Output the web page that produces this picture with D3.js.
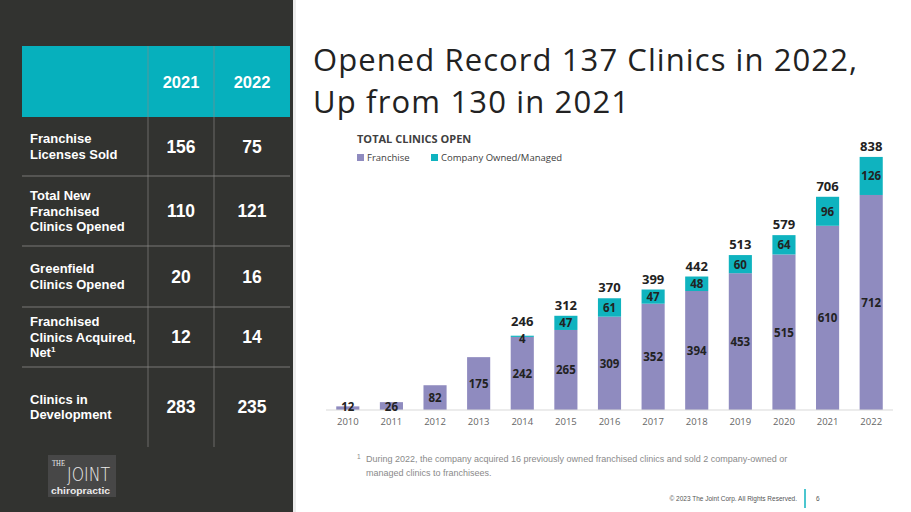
<!DOCTYPE html>
<html><head><meta charset="utf-8">
<script src="https://cdn.jsdelivr.net/npm/d3@7"></script>
<style>
body{margin:0;padding:0;background:#fff;}
svg{display:block;}
</style></head>
<body><svg id="c" width="911" height="512"></svg>
<script>
// ---- data ----
const years = ["2010","2011","2012","2013","2014","2015","2016","2017","2018","2019","2020","2021","2022"];
const franchise = [12,26,82,175,242,265,309,352,394,453,515,610,712];
const company = [0,0,0,0,4,47,61,47,48,60,64,96,126];
const totals = [null,null,null,null,246,312,370,399,442,513,579,706,838];
const seriesNames = ["Franchise","Company Owned/Managed"];
const tableYears = ["2021","2022"];
const tableRows = [["Franchise","Licenses Sold"],["Total New","Franchised","Clinics Opened"],["Greenfield","Clinics Opened"],["Franchised","Clinics Acquired,","Net¹"],["Clinics in","Development"]];
const tableVals2021 = [156,110,20,12,283];
const tableVals2022 = [75,121,16,14,235];

const svg = d3.select("#c");
const PURPLE = "#8f8bbf", TEAL = "#0fb3bf", DARK = "#323330";

// ---- left panel ----
svg.append("rect").attr("x",0).attr("y",0).attr("width",293).attr("height",512).attr("fill",DARK);
svg.append("rect").attr("x",293).attr("y",0).attr("width",3).attr("height",512).attr("fill","#ececec");
const tbl = svg.append("g").attr("font-family","Liberation Sans, Arial, sans-serif").attr("fill","#fff");
tbl.append("rect").attr("x",22).attr("y",46).attr("width",268).attr("height",71).attr("fill","#06b0bd");
const rowB = [117,176,246,307,367,447];
const col1 = 181, col2 = 252;
tableYears.forEach((t,i)=>{
  tbl.append("text").attr("x",i?col2:col1).attr("y",88).attr("text-anchor","middle")
    .attr("font-size",16.5).attr("font-weight","bold").text(t);
});
[148,214].forEach(x=>tbl.append("line").attr("x1",x).attr("x2",x).attr("y1",46).attr("y2",447)
  .attr("stroke","#8a8b88").attr("stroke-width",0.8).attr("opacity",0.8));
rowB.slice(1,5).forEach(y=>tbl.append("line").attr("x1",22).attr("x2",290).attr("y1",y).attr("y2",y)
  .attr("stroke","#8a8b88").attr("stroke-width",0.8));
tableRows.forEach((lines,i)=>{
  const mid = (rowB[i]+rowB[i+1])/2;
  const lh = 15.5;
  lines.forEach((l,j)=>{
    const y = mid + (j-(lines.length-1)/2)*lh + 4.5;
    const t = tbl.append("text").attr("x",30).attr("y",y).attr("font-size",13).attr("font-weight","bold");
    if(l.endsWith("¹")){ t.text(l.slice(0,-1)); t.append("tspan").attr("font-size",8).attr("dy",-5).text("1"); }
    else t.text(l);
  });
  tbl.append("text").attr("x",col1).attr("y",mid+6).attr("text-anchor","middle").attr("font-size",17.5).attr("font-weight","bold").text(tableVals2021[i]);
  tbl.append("text").attr("x",col2).attr("y",mid+6).attr("text-anchor","middle").attr("font-size",17.5).attr("font-weight","bold").text(tableVals2022[i]);
});
// logo
const lg = svg.append("g").attr("fill","#ececec");
lg.append("rect").attr("x",48).attr("y",455).attr("width",68).attr("height",42).attr("fill","#474747");
lg.append("text").attr("x",52).attr("y",466).attr("font-family","Liberation Serif, serif").attr("font-size",8.5).attr("textLength",13).attr("lengthAdjust","spacingAndGlyphs").text("THE");
lg.append("text").attr("x",67).attr("y",481).attr("font-family","DejaVu Sans, sans-serif").attr("font-weight","200").attr("font-size",19).attr("textLength",43).attr("lengthAdjust","spacingAndGlyphs").text("JOINT");
lg.append("text").attr("x",51).attr("y",494).attr("font-family","Liberation Sans, sans-serif").attr("font-size",9).attr("font-weight","bold").attr("textLength",59).attr("lengthAdjust","spacingAndGlyphs").text("chiropractic");

// ---- title ----
const title = svg.append("g").attr("font-family","Open Sans, sans-serif").attr("fill","#222").attr("font-size",31);
title.append("text").attr("x",313).attr("y",71).attr("textLength",544).text("Opened Record 137 Clinics in 2022,");
title.append("text").attr("x",313).attr("y",113).attr("textLength",316).text("Up from 130 in 2021");

// ---- chart ----
const x = d3.scaleBand().domain(years).range([326,893]).paddingInner(0.47).paddingOuter(0.235);
const y = d3.scaleLinear().domain([0,900]).range([410,138.2]);
const data = years.map((yr,i)=>({yr, f:franchise[i], c:company[i], t:totals[i]}));
const stack = d3.stack().keys(["f","c"])(data);
const colors = [PURPLE, TEAL];
const g = svg.append("g");
stack.forEach((s,k)=>{
  g.selectAll(null).data(s).join("rect")
    .attr("x",d=>x(d.data.yr)).attr("width",x.bandwidth())
    .attr("y",d=>y(d[1])).attr("height",d=>y(d[0])-y(d[1]))
    .attr("fill",colors[k]);
});
const ax = g.append("g").attr("transform","translate(0,410)").call(d3.axisBottom(x).tickSize(0).tickPadding(8));
ax.select(".domain").attr("stroke","#d9d9d9").attr("stroke-width",1).attr("d","M326,0H893");
ax.selectAll("text").attr("font-family","Open Sans, sans-serif").attr("font-size",9.5).attr("fill","#666");
const lf = "Open Sans, sans-serif";
g.selectAll(null).data(data).join("text")
  .attr("x",d=>x(d.yr)+x.bandwidth()/2).attr("y",d=>Math.min((y(0)+y(d.f))/2, 406)+4.5)
  .attr("text-anchor","middle").attr("font-family",lf).attr("font-size",11.5).attr("font-weight","bold").attr("fill","#222")
  .text(d=>d.f);
g.selectAll(null).data(data.filter(d=>d.c>0)).join("text")
  .attr("x",d=>x(d.yr)+x.bandwidth()/2).attr("y",d=>(y(d.f)+y(d.f+d.c))/2+(d.c<10?6.5:4.5))
  .attr("text-anchor","middle").attr("font-family",lf).attr("font-size",11.5).attr("font-weight","bold").attr("fill","#222")
  .text(d=>d.c);
g.selectAll(null).data(data.filter(d=>d.t!==null)).join("text")
  .attr("x",d=>x(d.yr)+x.bandwidth()/2).attr("y",d=>y(d.t)-(d.c<10?10:6))
  .attr("text-anchor","middle").attr("font-family",lf).attr("font-size",13).attr("font-weight","bold").attr("fill","#222")
  .text(d=>d.t);
svg.append("text").attr("x",357).attr("y",143).attr("font-family",lf).attr("font-size",11).attr("font-weight","bold").attr("fill","#404040").text("TOTAL CLINICS OPEN");
const legX = [357,431];
seriesNames.forEach((n,i)=>{
  svg.append("rect").attr("x",legX[i]).attr("y",154).attr("width",7).attr("height",7).attr("fill",colors[i]);
  svg.append("text").attr("x",legX[i]+10).attr("y",161).attr("font-family",lf).attr("font-size",9.5).attr("fill","#404040").text(n);
});

const fn = svg.append("g").attr("font-family","Liberation Sans, Arial, sans-serif").attr("fill","#8a8a8a").attr("font-size",9);
fn.append("text").attr("x",357).attr("y",459).attr("font-size",6.5).text("1");
fn.append("text").attr("x",366).attr("y",462).text("During 2022, the company acquired 16 previously owned franchised clinics and sold 2 company-owned or");
fn.append("text").attr("x",366).attr("y",476).text("managed clinics to franchisees.");
svg.append("text").attr("x",797).attr("y",501).attr("text-anchor","end").attr("font-family","Liberation Sans Narrow, Liberation Sans, sans-serif").attr("font-size",6.5).attr("fill","#555").text("© 2023 The Joint Corp. All Rights Reserved.");
svg.append("line").attr("x1",805).attr("x2",805).attr("y1",489).attr("y2",508).attr("stroke",TEAL).attr("stroke-width",1.5);
svg.append("text").attr("x",816).attr("y",501).attr("font-family","Liberation Sans, sans-serif").attr("font-size",6.5).attr("fill","#555").text("6");
</script></body></html>
